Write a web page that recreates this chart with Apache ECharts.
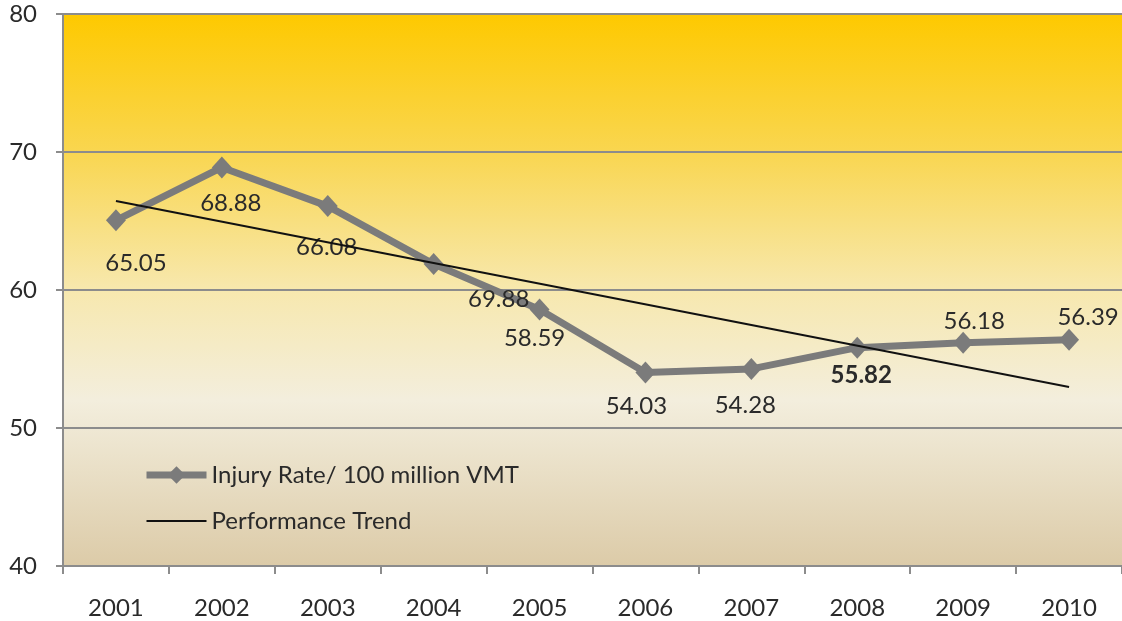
<!DOCTYPE html>
<html>
<head>
<meta charset="utf-8">
<script src="https://cdn.jsdelivr.net/npm/echarts@6/dist/echarts.min.js"></script>
<style>
  html, body { margin: 0; padding: 0; background: #fff; }
  #chart { width: 1122px; height: 621px; }
</style>
</head>
<body>
<div id="chart"></div>
<script>
// years on the x axis
const years = ['2001', '2002', '2003', '2004', '2005', '2006', '2007', '2008', '2009', '2010'];

// injury rate per 100 million VMT (plotted values)
const injuryRate = [65.05, 68.88, 66.08, 61.88, 58.59, 54.03, 54.28, 55.82, 56.18, 56.39];

// label text as printed on the chart
const injuryLabels = ['65.05', '68.88', '66.08', '69.88', '58.59', '54.03', '54.28', '55.82', '56.18', '56.39'];

// performance trend, read at both ends
const trendStart = 66.45;
const trendEnd = 52.97;

// y axis ticks
const yTicks = [40, 50, 60, 70, 80];

const FONT = 'Lato, "Open Sans", sans-serif';

// where each label sits, relative to its marker
const labelOffsets = [
  [20, 43], [9, 36], [-1, 41], [65, 35], [-5, 29],
  [-9, 34], [-6, 36], [4, 28], [11, -21], [19, -23]
];

const chart = echarts.init(document.getElementById('chart'));

const rateData = injuryRate.map(function (v, i) {
  return {
    value: v,
    label: {
      show: true,
      position: 'inside',
      offset: labelOffsets[i],
      formatter: injuryLabels[i],
      fontWeight: years[i] === '2008' ? 'bold' : 'normal'
    }
  };
});

const trendData = years.map(function (y, i) {
  if (i === 0) return trendStart;
  if (i === years.length - 1) return trendEnd;
  return null;
});

const option = {
  backgroundColor: '#fff',
  animation: false,
  grid: {
    left: 63,
    right: 0,
    top: 14,
    bottom: 55,
    show: true,
    borderWidth: 0,
    backgroundColor: new echarts.graphic.LinearGradient(0, 0, 0, 1, [
      { offset: 0, color: '#FEC900' },
      { offset: 0.25, color: '#F9D650' },
      { offset: 0.5, color: '#F7E8AE' },
      { offset: 0.7, color: '#F3EEDD' },
      { offset: 1, color: '#DCCBA8' }
    ])
  },
  legend: {
    orient: 'vertical',
    left: 138,
    top: 458,
    itemWidth: 60,
    itemHeight: 22,
    itemGap: 22,
    textStyle: { fontFamily: FONT, fontSize: 24, color: '#2a2a2a' },
    data: [{
      name: 'Injury Rate/ 100 million VMT',
      lineStyle: { width: 7 }
    }, {
      name: 'Performance Trend',
      itemStyle: { opacity: 0, color: 'rgba(0,0,0,0)', borderColor: 'rgba(0,0,0,0)' },
      lineStyle: { width: 2, color: '#111' }
    }]
  },
  xAxis: {
    type: 'category',
    data: years,
    boundaryGap: true,
    axisLine: { lineStyle: { color: '#8c8c8c', width: 2 } },
    axisTick: { show: true, length: 8, lineStyle: { color: '#8c8c8c', width: 2 } },
    axisLabel: { margin: 30, fontFamily: FONT, fontSize: 24, color: '#2a2a2a' },
    splitLine: { show: false }
  },
  yAxis: {
    type: 'value',
    min: yTicks[0],
    max: yTicks[yTicks.length - 1],
    interval: 10,
    axisLine: { show: true, lineStyle: { color: '#8c8c8c', width: 2 } },
    axisTick: { show: true, length: 7, lineStyle: { color: '#8c8c8c', width: 2 } },
    axisLabel: { margin: 26, fontFamily: FONT, fontSize: 24, color: '#2a2a2a' },
    splitLine: { show: true, lineStyle: { color: '#8c8c8c', width: 2 } }
  },
  series: [{
    name: 'Injury Rate/ 100 million VMT',
    type: 'line',
    data: rateData,
    symbol: 'diamond',
    symbolSize: [20, 22],
    lineStyle: { color: '#7b7b7b', width: 7 },
    itemStyle: { color: '#7b7b7b' },
    label: { fontFamily: FONT, fontSize: 24, color: '#2a2a2a' },
    z: 3
  }, {
    name: 'Performance Trend',
    type: 'line',
    data: trendData,
    connectNulls: true,
    symbol: 'none',
    lineStyle: { color: '#111', width: 2 },
    itemStyle: { color: '#111' },
    z: 4
  }]
};

chart.setOption(option);
</script>
</body>
</html>
